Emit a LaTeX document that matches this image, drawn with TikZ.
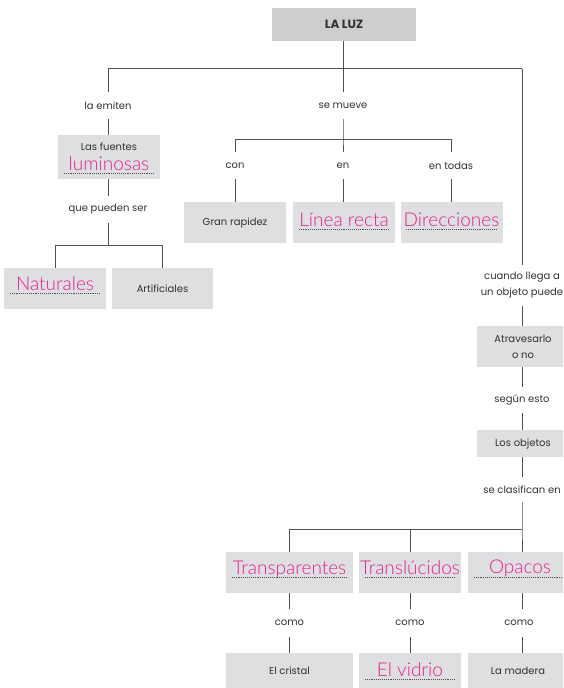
\documentclass[tikz,border=0pt]{standalone}
\usepackage{fontspec}
\setmainfont{Poppins}
\IfFontExistsTF{Lato Light}{\newfontfamily\pkfont{Lato Light}}{%
  \IfFontExistsTF{Open Sans Light}{\newfontfamily\pkfont{Open Sans Light}}{%
    \newfontfamily\pkfont{Fira Sans}}}
\definecolor{boxgray}{RGB}{222,223,225}
\definecolor{topgray}{RGB}{205,206,208}
\definecolor{linegray}{RGB}{80,80,80}
\definecolor{txt}{RGB}{50,50,50}
\definecolor{pinkc}{RGB}{232,30,140}
\tikzset{
  box/.style={fill=boxgray, draw=none, inner sep=0pt, text=txt, align=center,
    font=\fontsize{10}{16}\selectfont},
  lbl/.style={inner sep=0pt, text=txt, align=center, font=\fontsize{10}{16}\selectfont},
  pk/.style={inner sep=0pt, anchor=base, text=pinkc, font=\pkfont\fontsize{19}{22}\selectfont},
  conn/.style={draw=linegray, line width=0.8pt},
  dotl/.style={draw=linegray, line width=0.6pt, dash pattern=on 0.6pt off 1.3pt}
}
\newcommand\dotul[3]{\coordinate (#3) at ([yshift=-3pt]#2.base);
  \draw[dotl, shorten <=6pt, shorten >=6pt] (#1.west |- #3) -- (#1.east |- #3);}
\begin{document}
\begin{tikzpicture}[x=1pt,y=-1pt]
\useasboundingbox (0,0) rectangle (563,688);
\clip (0,0) rectangle (563,688);
% top
\node[box, fill=topgray, minimum width=144, minimum height=33,
  font=\bfseries\fontsize{12}{14}\selectfont] (laluz) at (344,24.5) {LA LUZ};
\coordinate (hL) at (108,68.5);
\coordinate (hM) at (343,68.5);
\coordinate (hR) at (522,68.5);
% left branch
\node[lbl, minimum height=27] (emiten) at (108,105.5) {la emiten};
\node[box, minimum width=102, minimum height=44] (fuentes) at (109,157) {};
\node[lbl] (tfuentes) at (109,147) {Las fuentes};
\node[pk] (tlum) at (109,170) {luminosas};
\node[lbl, minimum height=27] (pueden) at (108,209.5) {que pueden ser};
\coordinate (h2) at (108,245);
\coordinate (h2L) at (55,245);
\coordinate (h2R) at (162.5,245);
\node[box, minimum width=102, minimum height=41] (nat) at (55,288.5) {};
\node[pk] (tnat) at (55,290) {Naturales};
\node[box, minimum width=101, minimum height=41] (artif) at (162.5,288.5) {Artificiales};
% middle branch
\node[lbl, minimum height=27] (mueve) at (343,105.5) {se mueve};
\coordinate (h3) at (343,139);
\coordinate (h3L) at (235,139);
\coordinate (h3R) at (451,139);
\node[lbl, minimum height=27] (con) at (235,165.5) {con};
\node[lbl, minimum height=27] (en) at (343,165.5) {en};
\node[lbl, minimum height=27] (todas) at (451,165.5) {en todas};
\node[box, minimum width=102, minimum height=41] (gran) at (235,222.5) {Gran rapidez};
\node[box, minimum width=102, minimum height=41] (linea) at (344,222.5) {};
\node[pk] (tlinea) at (344,226) {Línea recta};
\node[box, minimum width=102, minimum height=41] (direc) at (451.5,222.5) {};
\node[pk] (tdirec) at (451.5,226) {Direcciones};
% right branch
\node[lbl, minimum height=40] (cuando) at (522,285.5) {cuando llega a\\un objeto puede};
\node[box, minimum width=92, minimum height=41] (atrav) at (523,346.5) {Atravesarlo\\o no};
\node[lbl, minimum height=26] (segun) at (522,400) {según esto};
\node[box, minimum width=92, minimum height=27] (objetos) at (523,443.5) {Los objetos};
\node[lbl, minimum height=25] (clasif) at (522,489.5) {se clasifican en};
\coordinate (h4) at (522,529);
\coordinate (h4L) at (289.5,529);
\coordinate (h4M) at (410,529);
\node[box, minimum width=127, minimum height=41] (transp) at (289.5,572.5) {};
\node[pk] (ttransp) at (289.5,574.5) {Transparentes};
\node[box, minimum width=102, minimum height=41] (transl) at (410,572.5) {};
\node[pk] (ttransl) at (410,574.5) {Translúcidos};
\node[box, minimum width=100, minimum height=41] (opac) at (518,572.5) {};
\node[pk] (topac) at (520,573.5) {Opacos};
\node[lbl, minimum height=28] (como1) at (289.5,623) {como};
\node[lbl, minimum height=28] (como2) at (410,623) {como};
\node[lbl, minimum height=28] (como3) at (519,623) {como};
\node[box, minimum width=127, minimum height=35] (cristal) at (289.5,670.5) {El cristal};
\node[box, minimum width=102, minimum height=35] (vidrio) at (410,670.5) {};
\node[pk] (tvidrio) at (410,676) {El vidrio};
\node[box, minimum width=100, minimum height=35] (madera) at (518,670.5) {La madera};
% dotted underlines
\dotul{fuentes}{tlum}{u1}
\dotul{nat}{tnat}{u2}
\dotul{linea}{tlinea}{u3}
\dotul{direc}{tdirec}{u4}
\dotul{transp}{ttransp}{u5}
\dotul{transl}{ttransl}{u6}
\draw[dotl, shorten <=6pt] (opac.west |- u6) -- (opac.east |- u6);
\dotul{vidrio}{tvidrio}{u8}
% connectors
\draw[conn] (laluz.south -| hM) -- (hM);
\draw[conn] (hL) -- (hR);
\draw[conn] (hL) -- (emiten.north);
\draw[conn] (emiten.south) -- (emiten.south |- fuentes.north);
\draw[conn] (fuentes.south -| emiten) -- (pueden.north);
\draw[conn] (pueden.south) -- (h2);
\draw[conn] (h2L) -- (h2R);
\draw[conn] (h2L) -- (nat.north);
\draw[conn] (h2R) -- (artif.north);
\draw[conn] (hM) -- (mueve.north);
\draw[conn] (mueve.south) -- (h3) -- (en.north);
\draw[conn] (h3L) -- (h3R);
\draw[conn] (h3L) -- (con.north);
\draw[conn] (h3R) -- (todas.north);
\draw[conn] (con.south) -- (gran.north);
\draw[conn] (en.south) -- (en.south |- linea.north);
\draw[conn] (todas.south) -- (todas.south |- direc.north);
\draw[conn] (hR) -- (cuando.north);
\draw[conn] (cuando.south) -- (cuando.south |- atrav.north);
\draw[conn] (atrav.south -| segun) -- (segun.north);
\draw[conn] (segun.south) -- (segun.south |- objetos.north);
\draw[conn] (objetos.south -| clasif) -- (clasif.north);
\draw[conn] (clasif.south) -- (h4) -- (h4 |- opac.north);
\draw[conn] (h4L) -- (h4);
\draw[conn] (h4L) -- (transp.north);
\draw[conn] (h4M) -- (transl.north);
\draw[conn] (transp.south) -- (como1.north);
\draw[conn] (como1.south) -- (cristal.north);
\draw[conn] (transl.south) -- (como2.north);
\draw[conn] (como2.south) -- (vidrio.north);
\draw[conn] (opac.south -| h4) -- (como3.north -| h4);
\draw[conn] (como3.south -| h4) -- (madera.north -| h4);
\end{tikzpicture}
\end{document}
